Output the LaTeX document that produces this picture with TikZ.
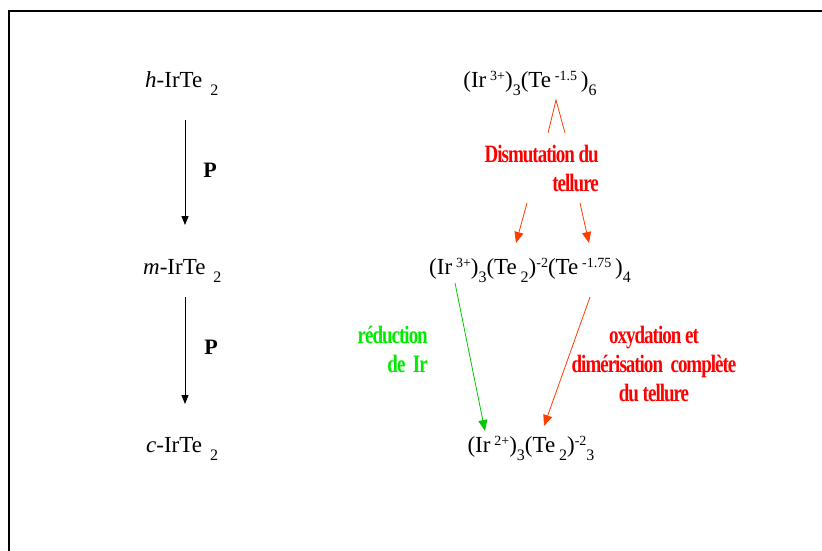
\documentclass[tikz,border=0pt]{standalone}
\usepackage{fontspec}
\setmainfont{Liberation Serif}
\newfontfamily\condfont[FakeStretch=0.76,LetterSpace=-4]{Liberation Serif}
\usetikzlibrary{arrows.meta}
\definecolor{arrowred}{RGB}{255,60,0}
\definecolor{labelred}{RGB}{255,0,0}
\definecolor{labelgreen}{RGB}{0,235,0}
\definecolor{arrowgreen}{RGB}{0,200,0}
\newcommand{\up}[1]{\raisebox{7pt}{\fontsize{14}{14}\selectfont #1}}
\newcommand{\dn}[1]{\raisebox{-8pt}{\fontsize{16}{16}\selectfont #1}}

\begin{document}
\begin{tikzpicture}[x=1pt, y=-1pt, every node/.style={font=\fontsize{23}{25}\selectfont, inner sep=0pt},
  phase/.style={anchor=base west},
  formula/.style={anchor=base},
  note/.style={font=\condfont\bfseries\fontsize{25}{29}\selectfont},
  press/.style={line width=0.8pt, -{Triangle[length=9pt,width=7pt]}},
  path/.style={line width=0.8pt, -{Triangle[length=11pt,width=9pt]}}]
  \useasboundingbox (0,0) rectangle (822,551);
  \draw[line width=2pt] (822,11) -- (9,11) -- (9,551);
  % left column
  \node[phase] (hIr) at (145,88) {\textit{h}-IrTe\hspace{8pt}\dn{2}};
  \node[phase] (mIr) at (143,274) {\textit{m}-IrTe\hspace{8pt}\dn{2}};
  \node[phase] (cIr) at (146,452) {\textit{c}-IrTe\hspace{8pt}\dn{2}};
  \coordinate (p1s) at (185,120); \coordinate (p1e) at (185,225);
  \coordinate (p2s) at (185,297); \coordinate (p2e) at (185,404);
  \draw[press] (p1s) -- (p1e);
  \draw[press] (p2s) -- (p2e);
  \node[font=\bfseries\fontsize{22}{24}\selectfont] (P1) at (210,170) {P};
  \node[font=\bfseries\fontsize{22}{24}\selectfont] (P2) at (211,347) {P};
  % right column
  \node[formula] (f1) at (530,88) {(Ir\,\up{3+})\dn{3}(Te\,\up{-1.5}\,)\dn{6}};
  \node[formula] (f2) at (530,274) {(Ir\,\up{3+})\dn{3}(Te\,\dn{2})\up{-2}(Te\,\up{-1.75}\,)\dn{4}};
  \node[formula] (f3) at (531,452) {(Ir\,\up{2+})\dn{3}(Te\,\dn{2})\up{-2}\dn{3}};
  \coordinate (apex) at (556,100);
  \coordinate (legL) at (548,133); \coordinate (legR) at (565,133);
  \draw[arrowred, line width=0.8pt] (legL) -- (apex) -- (legR);
  \node[note, text=labelred, align=right, anchor=north east] (dism) at (599,145) {Dismutation du\\tellure};
  \coordinate (dl1) at (527,203); \coordinate (dl2) at (516,243);
  \coordinate (dr1) at (580,203); \coordinate (dr2) at (589,243);
  \draw[path, arrowred] (dl1) -- (dl2);
  \draw[path, arrowred] (dr1) -- (dr2);
  \coordinate (g1) at (455,283); \coordinate (g2) at (485,431);
  \coordinate (r1) at (590,297); \coordinate (r2) at (544,426);
  \draw[path, arrowgreen] (g1) -- (g2);
  \draw[path, arrowred] (r1) -- (r2);
  \node[note, text=labelgreen, align=right, anchor=north east] (redu) at (428,326) {r\'eduction\\de\ \ Ir};
  \node[note, text=labelred, align=center, anchor=north] (oxy) at (654,326) {oxydation et\\dim\'erisation\ \ compl\`ete\\du tellure};
\end{tikzpicture}
\end{document}
